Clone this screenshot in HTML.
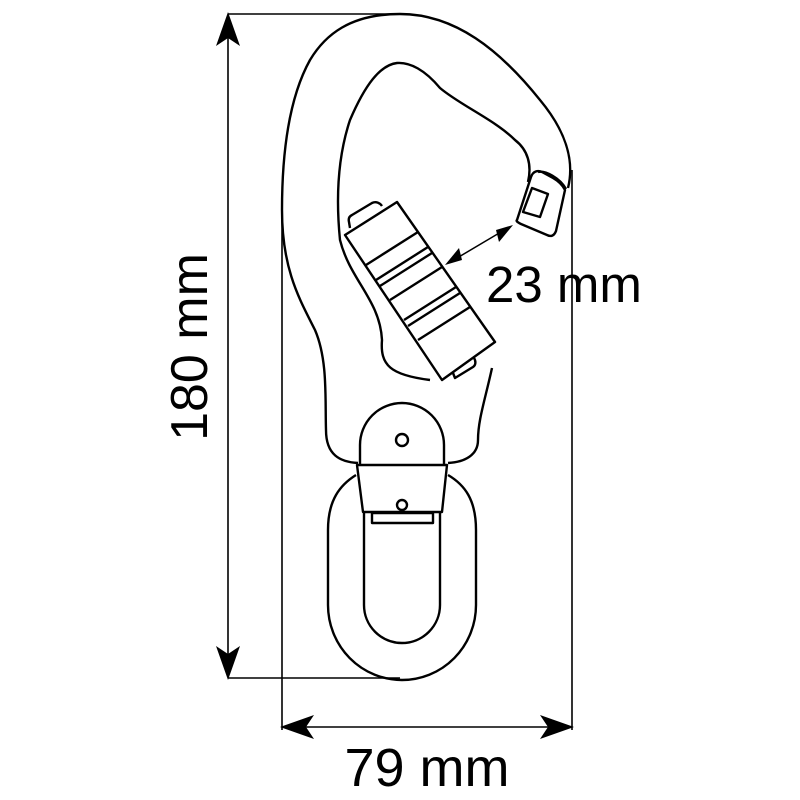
<!DOCTYPE html>
<html><head><style>html,body{margin:0;padding:0;background:#fff;width:800px;height:800px;overflow:hidden}</style></head>
<body>
<svg width="800" height="800" viewBox="0 0 800 800" xmlns="http://www.w3.org/2000/svg">
<g fill="none" stroke="#000" stroke-width="1.6">
<line x1="228" y1="14" x2="400" y2="14"/>
<line x1="228" y1="678" x2="400" y2="678"/>
<line x1="282" y1="200" x2="282" y2="730"/>
<line x1="572" y1="170" x2="572" y2="730"/>
<line x1="228" y1="30" x2="228" y2="662"/>
<line x1="298" y1="727" x2="556" y2="727"/>
</g>
<g fill="#000">
<polygon points="228,12 216,46 228,38 240,46"/>
<polygon points="228,680 216,646 228,654 240,646"/>
<polygon points="280,727 314,715 306,727 314,739"/>
<polygon points="574,727 540,715 548,727 540,739"/>
<polygon points="445,265 459,248 462,260 "/>
<polygon points="513,225 499,242 496,230"/>
</g>
<line x1="452" y1="261" x2="506" y2="229" stroke="#000" stroke-width="1.5"/>
<g fill="none" stroke="#000" stroke-width="2.4" stroke-linejoin="round">
<path d="M568,188 C575,160 565,130 540,100 C500,50 455,14 400,14 C350,14 325,35 310,60 C285,105 282,170 282,210 C282,270 300,300 315,330 C328,360 325,400 326,430 C326,455 340,462 358,463"/>
<path d="M492,368 C485,400 478,420 478,440 C478,455 465,462 448,463"/>
<path d="M528,182 C532,165 528,150 515,140 C495,120 460,105 440,88 C425,70 410,62 397,63 C380,65 365,85 350,120 C340,150 335,190 340,240 C350,280 380,300 382,340 C380,365 390,375 430,380"/>
<polygon points="345,235 397,202 495,342 442,380"/>
<line x1="366" y1="265" x2="418" y2="232"/>
<line x1="376" y1="280" x2="428" y2="247"/>
<line x1="380" y1="286" x2="432" y2="253"/>
<line x1="390" y1="300" x2="442" y2="267"/>
<line x1="404" y1="320" x2="456" y2="287"/>
<line x1="408" y1="326" x2="460" y2="293"/>
<line x1="418" y1="340" x2="470" y2="307"/>
<path d="M350,228 L349,222 C348,218 350,216 352,215 L372,203 C376,201 380,203 382,206"/>
<path d="M453,373 L455,378 L473,367 C476,365 476,361 474,358"/>
<path d="M517,220 L531,177 C533,171 538,170 542,172 L553,178 C560,182 563,186 565,190 L556,231 C554,236 551,237 547,235 L521,224 C517,222 516,221 517,220 Z"/>
<polygon points="523,212 532,188 548,194 540,217"/>
<path d="M538,172 C545,170 560,178 566,189"/>
<path d="M360,464 L360,445 A42,42 0 0 1 444,445 L444,464"/>
<circle cx="402" cy="440" r="6"/>
<polygon points="357,465 447,465 442,512 363,512"/>
<circle cx="402" cy="505" r="5"/>
<path d="M356,475 C340,485 328,500 328,530 L328,605 A74,75 0 0 0 476,605 L476,530 C476,500 465,485 448,475"/>
<path d="M364,513 L364,605 A38,38 0 0 0 440,605 L440,513"/>
<rect x="372" y="513" width="61" height="10"/>
</g>
<g font-family="'Liberation Sans', sans-serif" fill="#000">
<text x="486" y="302" font-size="51">23 mm</text>
<text x="427" y="786" font-size="54" text-anchor="middle">79 mm</text>
<text transform="translate(207,347) rotate(-90)" font-size="52" text-anchor="middle">180 mm</text>
</g>
</svg>
</body></html>
